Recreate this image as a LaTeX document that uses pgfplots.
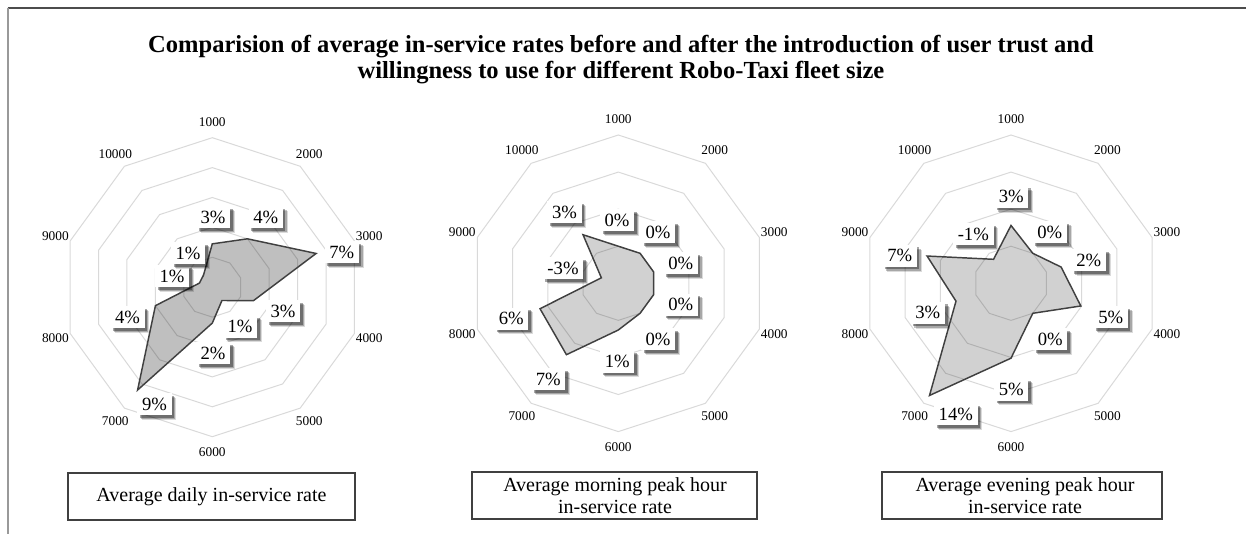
\documentclass[border=0pt]{standalone}
\usepackage{fontspec}
\setmainfont{Liberation Serif}
\usepackage{pgfplots}
\pgfplotsset{compat=1.18}
\usepackage{pgfplotstable}
\usetikzlibrary{shadows}
\definecolor{gridc}{HTML}{D9D9D9}
\definecolor{linec}{HTML}{404040}

% angle (deg, 1000 at top, clockwise) and value in %
\pgfplotstableread{
ang v
90 2.9
54 4.0
18 7.3
-18 2.9
-54 1.1
-90 2.4
-126 8.5
-162 4.0
162 0.9
126 1.0
}\daily
\pgfplotstableread{
ang v
90 0.0
54 0.0
18 0.0
-18 0.0
-54 0.0
-90 1.3
-126 6.9
-162 6.1
162 -2.6
126 3.1
}\morning
\pgfplotstableread{
ang v
90 2.8
54 0.0
18 2.1
-18 4.9
-54 0.0
-90 5.1
-126 13.7
-162 2.8
162 6.9
126 -1.0
}\evening

\tikzset{
  lbl/.style={fill=white, font=\fontsize{14}{16}\selectfont, minimum height=16.5pt,
    minimum width=25.5pt, inner xsep=3.5pt, inner ysep=0pt,
    drop shadow={shadow xshift=3.6pt, shadow yshift=-3.6pt, fill=black, opacity=0.14},
    drop shadow={shadow xshift=2.8pt, shadow yshift=-2.8pt, fill=black, opacity=0.24},
    drop shadow={shadow xshift=2.0pt, shadow yshift=-2.0pt, fill=black, opacity=0.34}},
  cat/.style={font=\fontsize{10}{11}\selectfont, inner sep=0pt},
  bx/.style={draw=linec, line width=1pt, fill=white}
}

\begin{document}
\begin{tikzpicture}
\useasboundingbox (0,0) rectangle (1246*0.75pt,-534*0.75pt);

% ---------- chart 1 ----------
\begin{axis}[at={(212.3*0.75pt,-287.2*0.75pt)}, anchor=center, hide axis, clip=false,
  x=11.2125pt, y=11.2125pt, xmin=-11, xmax=11, ymin=-11, ymax=11]
\pgfplotsinvokeforeach{2,4,6,8,10}{
\addplot[gridc, line width=0.75pt, data cs=polar, mark=none] coordinates {(90,#1)(54,#1)(18,#1)(-18,#1)(-54,#1)(-90,#1)(-126,#1)(-162,#1)(162,#1)(126,#1)} -- cycle;
}
\addplot[linec, line width=1.1pt, fill=black, fill opacity=0.25, data cs=polar, mark=none] table[x=ang, y=v] {\daily} -- cycle;
\end{axis}

% ---------- chart 2 ----------
\begin{axis}[at={(618.3*0.75pt,-283.3*0.75pt)}, anchor=center, hide axis, clip=false,
  x=5.561pt, y=5.561pt, xmin=-21, xmax=21, ymin=-21, ymax=21]
\pgfplotsinvokeforeach{5,10,15,20}{
\addplot[gridc, line width=0.75pt, data cs=polar, mark=none] coordinates {(90,#1)(54,#1)(18,#1)(-18,#1)(-54,#1)(-90,#1)(-126,#1)(-162,#1)(162,#1)(126,#1)} -- cycle;
}
\addplot[linec, line width=1.1pt, fill=black, fill opacity=0.18, data cs=polar, mark=none] table[x=ang, y expr=\thisrow{v}+5] {\morning} -- cycle;
\end{axis}

% ---------- chart 3 ----------
\begin{axis}[at={(1011*0.75pt,-283.3*0.75pt)}, anchor=center, hide axis, clip=false,
  x=5.561pt, y=5.561pt, xmin=-21, xmax=21, ymin=-21, ymax=21]
\pgfplotsinvokeforeach{5,10,15,20}{
\addplot[gridc, line width=0.75pt, data cs=polar, mark=none] coordinates {(90,#1)(54,#1)(18,#1)(-18,#1)(-54,#1)(-90,#1)(-126,#1)(-162,#1)(162,#1)(126,#1)} -- cycle;
}
\addplot[linec, line width=1.1pt, fill=black, fill opacity=0.18, data cs=polar, mark=none] table[x=ang, y expr=\thisrow{v}+5] {\evening} -- cycle;
\end{axis}

\begin{scope}[x=0.75pt, y=-0.75pt]
% frame
\draw[black!70, line width=0.9pt] (7.5,8) -- (1246,8);
\draw[black!40, line width=1.3pt] (8,8) -- (8,534);

% title
\node[font=\bfseries\fontsize{18.4}{19.6}\selectfont, align=center] at (621,59.5)
  {Comparision of average in-service rates before and after the introduction of user trust and\\
   willingness to use for different Robo-Taxi fleet size};

% category labels
\foreach \c/\r/\cx/\cy in {1/123.75pt/212.3/287.2, 2/123pt/618.3/283.3, 3/123pt/1011/283.3}{
  \foreach \a/\t in {90/1000,54/2000,18/3000,-18/4000,-54/5000,-90/6000,-126/7000,-162/8000,162/9000,126/10000}{
    \path (\cx,\cy) ++(\a:\r) node[cat] {\t};
  }
}

% data labels chart 1
\node[lbl] at (213,217) {3\%};
\node[lbl] at (265.7,217) {4\%};
\node[lbl] at (341.7,252.5) {7\%};
\node[lbl] at (283,311) {3\%};
\node[lbl] at (240,326.7) {1\%};
\node[lbl] at (213,353) {2\%};
\node[lbl] at (154.5,404) {9\%};
\node[lbl] at (127.5,317.5) {4\%};
\node[lbl] at (172,276) {1\%};
\node[lbl] at (188,253) {1\%};

% data labels chart 2
\node[lbl] at (617,220.3) {0\%};
\node[lbl] at (658,232) {0\%};
\node[lbl] at (680.7,263.3) {0\%};
\node[lbl] at (680.7,304.7) {0\%};
\node[lbl] at (658,339) {0\%};
\node[lbl] at (617.3,361.7) {1\%};
\node[lbl] at (548.3,379.2) {7\%};
\node[lbl] at (511.3,318.7) {6\%};
\node[lbl] at (563,268) {-3\%};
\node[lbl] at (564.5,212.5) {3\%};

% data labels chart 3
\node[lbl] at (1011.2,196.8) {3\%};
\node[lbl] at (1049.7,232.2) {0\%};
\node[lbl] at (1088.8,260.3) {2\%};
\node[lbl] at (1110.7,317.5) {5\%};
\node[lbl] at (1050.3,339.5) {0\%};
\node[lbl] at (1011.2,389.7) {5\%};
\node[lbl] at (955.8,414.2) {14\%};
\node[lbl] at (927.8,312.8) {3\%};
\node[lbl] at (899.7,255.8) {7\%};
\node[lbl] at (973.3,234.5) {-1\%};

% chart titles boxes
\draw[bx] (68,473) rectangle (355,520);
\node[font=\fontsize{15}{16.3}\selectfont] at (211.5,496.5) {Average daily in-service rate};
\draw[bx] (472,472) rectangle (757,519);
\node[font=\fontsize{15}{16.3}\selectfont, align=center] at (615,495.5) {Average morning peak hour\\in-service rate};
\draw[bx] (882,472) rectangle (1162,519);
\node[font=\fontsize{15}{16.3}\selectfont, align=center] at (1025,495.5) {Average evening peak hour\\in-service rate};
\end{scope}
\end{tikzpicture}
\end{document}
